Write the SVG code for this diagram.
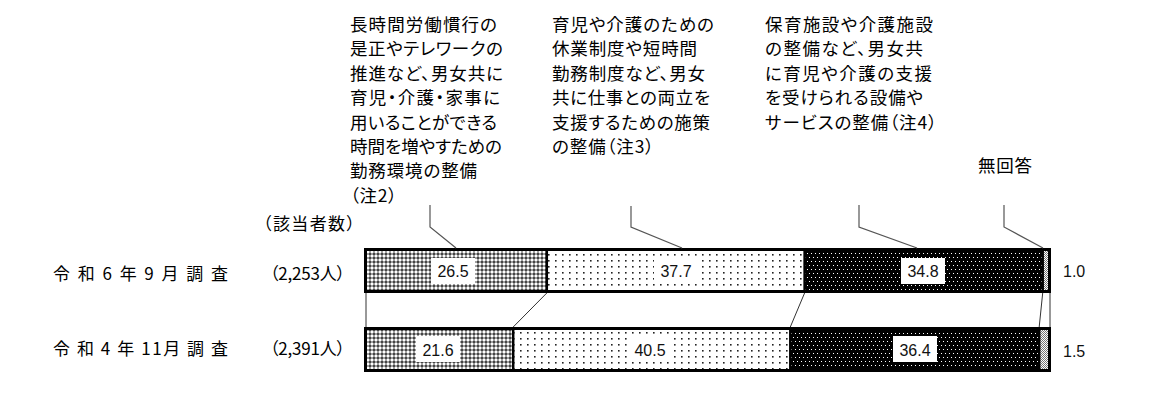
<svg xmlns="http://www.w3.org/2000/svg" width="1156" height="413" viewBox="0 0 1156 413">
<style>
.jp{font-family:"Noto Sans CJK JP","Noto Sans",sans-serif;font-size:17.5px;fill:#000;font-feature-settings:"palt" 1}
.row{font-family:"Noto Sans CJK JP","Noto Sans",sans-serif;font-size:17px;fill:#000;font-feature-settings:"palt" 1}
.val{font-family:"Liberation Sans",Arial,sans-serif;font-size:16px;fill:#111;text-anchor:middle}
.out{font-family:"Liberation Sans",Arial,sans-serif;font-size:16px;fill:#111}
.box{fill:#fff;stroke:none}
.frame{fill:none;stroke:#000;stroke-width:3}
.div{stroke:#000;stroke-width:2.5}
.lead{fill:none;stroke:#555;stroke-width:1.2}
.link{fill:none;stroke:#333;stroke-width:1}
</style>
<defs>
<pattern id="p1" width="4" height="4" patternUnits="userSpaceOnUse">
<rect width="4" height="4" fill="#fff"/>
<path d="M0,2 L2,0 L4,2 L2,4 Z" fill="#444"/>
</pattern>
<pattern id="p2" width="7" height="6" patternUnits="userSpaceOnUse">
<rect width="7" height="6" fill="#fff"/>
<rect x="2" y="2" width="1.6" height="1.6" fill="#222"/>
</pattern>
<pattern id="p3" width="8" height="8" patternUnits="userSpaceOnUse">
<rect width="8" height="8" fill="#000"/>
<rect x="1" y="1" width="1" height="1" fill="#fff"/>
<rect x="5" y="1" width="1" height="1" fill="#fff"/>
<rect x="3" y="5" width="1" height="1" fill="#fff"/>
<rect x="7" y="5" width="1" height="1" fill="#fff"/>
</pattern>
<pattern id="p4" width="2" height="2" patternUnits="userSpaceOnUse">
<rect width="2" height="2" fill="#fff"/>
<rect x="0" y="0" width="1" height="1" fill="#777"/>
<rect x="1" y="1" width="1" height="1" fill="#777"/>
</pattern>
</defs>
<rect width="1156" height="413" fill="#fff"/>

<g id="label-long-hours">
<text class="jp" x="350" y="31" textLength="147">長時間労働慣行の</text>
<text class="jp" x="350" y="55.4" textLength="153">是正やテレワークの</text>
<text class="jp" x="350" y="79.8" textLength="153">推進など、男女共に</text>
<text class="jp" x="350" y="104.2" textLength="150">育児・介護・家事に</text>
<text class="jp" x="350" y="128.6" textLength="147">用いることができる</text>
<text class="jp" x="350" y="153" textLength="152">時間を増やすための</text>
<text class="jp" x="350" y="177.4" textLength="127">勤務環境の整備</text>
<text class="jp" x="350" y="201.8" textLength="47">（注2）</text>
</g>
<g id="label-leave">
<text class="jp" x="552" y="31" textLength="162">育児や介護のための</text>
<text class="jp" x="552" y="55.4" textLength="145">休業制度や短時間</text>
<text class="jp" x="552" y="79.8" textLength="153">勤務制度など、男女</text>
<text class="jp" x="552" y="104.2" textLength="158">共に仕事との両立を</text>
<text class="jp" x="552" y="128.6" textLength="158">支援するための施策</text>
<text class="jp" x="552" y="153" textLength="102">の整備（注3）</text>
</g>
<g id="label-facilities">
<text class="jp" x="765" y="31" textLength="168">保育施設や介護施設</text>
<text class="jp" x="765" y="55.4" textLength="158">の整備など、男女共</text>
<text class="jp" x="765" y="79.8" textLength="167">に育児や介護の支援</text>
<text class="jp" x="765" y="104.2" textLength="158">を受けられる設備や</text>
<text class="jp" x="765" y="128.6" textLength="172">サービスの整備（注4）</text>
</g>
<g id="label-noanswer">
<text class="jp" x="978" y="171.5" textLength="54">無回答</text>
</g>
<g id="label-count-header">
<text class="row" x="263" y="230" textLength="92">（該当者数）</text>
</g>

<g id="row-r6">
<text class="row" x="53" y="279.5" textLength="175">令 和 6 年 9 月 調 査</text>
<text class="row" x="270" y="279.5" textLength="75">（2,253人）</text>
<rect x="365.5" y="249.5" width="181.3" height="42" fill="url(#p1)"/>
<rect x="546.8" y="249.5" width="257.8" height="42" fill="url(#p2)"/>
<rect x="804.6" y="249.5" width="238.1" height="42" fill="url(#p3)"/>
<rect x="1042.7" y="249.5" width="6.8" height="42" fill="url(#p4)"/>
<line class="div" x1="546.8" y1="249" x2="546.8" y2="292"/>
<line class="div" x1="804.6" y1="249" x2="804.6" y2="292"/>
<line class="div" x1="1042.7" y1="249" x2="1042.7" y2="292"/>
<rect class="frame" x="365.5" y="249.5" width="684" height="42"/>
<rect class="box" x="431" y="258" width="44" height="26"/>
<text class="val" x="453" y="277">26.5</text>
<rect class="box" x="654" y="258" width="44" height="26"/>
<text class="val" x="676" y="277">37.7</text>
<rect class="box" x="901" y="258" width="44" height="26"/>
<text class="val" x="923" y="277">34.8</text>
<text class="out" x="1063" y="277">1.0</text>
</g>

<g id="row-r4">
<text class="row" x="53" y="354.5" textLength="175">令 和 4 年 11月 調 査</text>
<text class="row" x="270" y="354.5" textLength="75">（2,391人）</text>
<rect x="365.5" y="328.5" width="147.7" height="42" fill="url(#p1)"/>
<rect x="513.2" y="328.5" width="277.1" height="42" fill="url(#p2)"/>
<rect x="790.3" y="328.5" width="248.9" height="42" fill="url(#p3)"/>
<rect x="1039.2" y="328.5" width="10.3" height="42" fill="url(#p4)"/>
<line class="div" x1="513.2" y1="328" x2="513.2" y2="371"/>
<line class="div" x1="790.3" y1="328" x2="790.3" y2="371"/>
<line class="div" x1="1039.2" y1="328" x2="1039.2" y2="371"/>
<rect class="frame" x="365.5" y="328.5" width="684" height="42"/>
<rect class="box" x="416" y="336" width="44" height="26"/>
<text class="val" x="438" y="356">21.6</text>
<rect class="box" x="628" y="336" width="44" height="26"/>
<text class="val" x="650" y="356">40.5</text>
<rect class="box" x="893" y="336" width="44" height="26"/>
<text class="val" x="915" y="356">36.4</text>
<text class="out" x="1063" y="357">1.5</text>
</g>

<g id="connectors">
<polyline class="lead" points="430,205 430,227 456,248"/>
<polyline class="lead" points="631,206 631,227 682,248"/>
<polyline class="lead" points="859,205 859,227 917,248"/>
<polyline class="lead" points="1004,205 1004,227 1043,248"/>
<line class="link" x1="366" y1="293" x2="366" y2="327"/>
<line class="link" x1="1050" y1="293" x2="1050" y2="327"/>
<line class="link" x1="546.8" y1="293" x2="513.2" y2="327"/>
<line class="link" x1="804.6" y1="293" x2="790.3" y2="327"/>
<line class="link" x1="1042.7" y1="293" x2="1039.2" y2="327"/>
</g>
</svg>
